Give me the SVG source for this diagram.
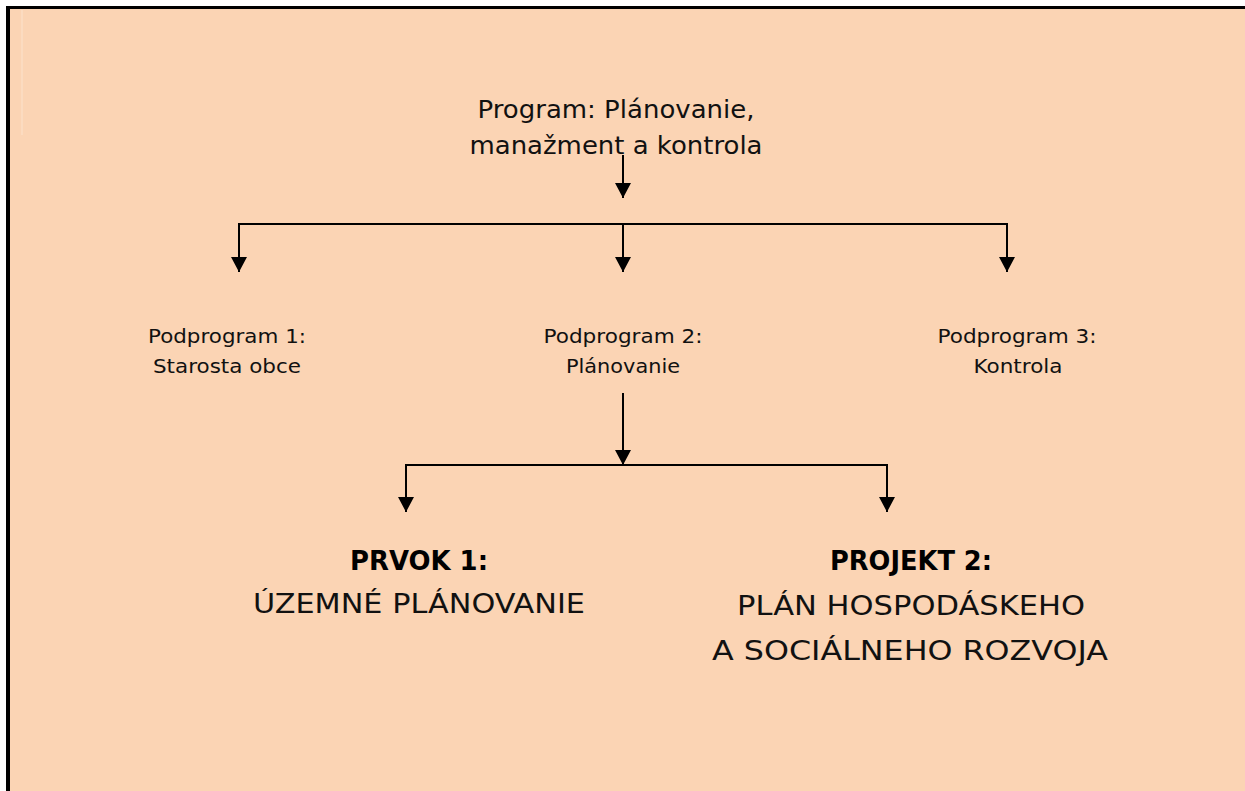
<svg xmlns="http://www.w3.org/2000/svg" width="1245" height="791" viewBox="0 0 1245 791">
  <style>
    .bg { fill: #FBD4B4; }
    .border { fill: #000; }
    .conn { fill: none; stroke: #000; stroke-width: 2; marker-end: url(#arrow); }
    .gothic { font-family: "DejaVu Sans", "Liberation Sans", sans-serif; fill: #111; text-anchor: middle; }
    .verdana { font-family: "DejaVu Sans", "Liberation Sans", sans-serif; fill: #111; text-anchor: middle; font-size: 20px; }
    .bold { font-family: "DejaVu Sans", "Liberation Sans", sans-serif; font-weight: bold; fill: #000; text-anchor: middle; font-size: 26px; }
  </style>
  <defs>
    <marker id="arrow" viewBox="0 0 15 16" refX="15" refY="8" markerWidth="15" markerHeight="16" markerUnits="userSpaceOnUse" orient="auto">
      <path d="M0,0 L15,8 L0,16 z" fill="#000"/>
    </marker>
  </defs>
  <rect width="1245" height="791" fill="#ffffff"/>
  <rect class="bg" x="10" y="9" width="1235" height="782"/>
  <rect class="border" x="6" y="6" width="1239" height="3"/>
  <rect class="border" x="6" y="6" width="4" height="785"/>
  <line x1="22" y1="10" x2="22" y2="135" stroke="#FCE2CC" stroke-width="1"/>

  <g id="connectors">
    <path class="conn" d="M623,155 V198"/>
    <path class="conn" d="M623,224 H239 V272"/>
    <path class="conn" d="M623,224 V272"/>
    <path class="conn" d="M623,224 H1007 V272"/>
    <path class="conn" d="M623,393 V465"/>
    <path class="conn" d="M623,465 H406 V512"/>
    <path class="conn" d="M623,465 H887 V512"/>
  </g>

  <g id="program">
    <text class="gothic" font-size="25" x="616" y="118" textLength="277" lengthAdjust="spacingAndGlyphs">Program: Plánovanie,</text>
    <text class="gothic" font-size="25" x="616" y="154" textLength="293" lengthAdjust="spacingAndGlyphs">manažment a kontrola</text>
  </g>

  <g id="podprogram1">
    <text class="verdana" x="227" y="343" textLength="158" lengthAdjust="spacingAndGlyphs">Podprogram 1:</text>
    <text class="verdana" x="227" y="373" textLength="148" lengthAdjust="spacingAndGlyphs">Starosta obce</text>
  </g>
  <g id="podprogram2">
    <text class="verdana" x="623" y="343" textLength="159" lengthAdjust="spacingAndGlyphs">Podprogram 2:</text>
    <text class="verdana" x="623" y="373" textLength="114" lengthAdjust="spacingAndGlyphs">Plánovanie</text>
  </g>
  <g id="podprogram3">
    <text class="verdana" x="1017" y="343" textLength="159" lengthAdjust="spacingAndGlyphs">Podprogram 3:</text>
    <text class="verdana" x="1018" y="373" textLength="89" lengthAdjust="spacingAndGlyphs">Kontrola</text>
  </g>

  <g id="prvok1">
    <text class="bold" x="419" y="570" textLength="138" lengthAdjust="spacingAndGlyphs">PRVOK 1:</text>
    <text class="gothic" font-size="27" x="419" y="613" textLength="332" lengthAdjust="spacingAndGlyphs">ÚZEMNÉ PLÁNOVANIE</text>
  </g>
  <g id="projekt2">
    <text class="bold" x="911" y="570" textLength="162" lengthAdjust="spacingAndGlyphs">PROJEKT 2:</text>
    <text class="gothic" font-size="27" x="911" y="615" textLength="348" lengthAdjust="spacingAndGlyphs">PLÁN HOSPODÁSKEHO</text>
    <text class="gothic" font-size="27" x="910" y="660" textLength="396" lengthAdjust="spacingAndGlyphs">A SOCIÁLNEHO ROZVOJA</text>
  </g>
</svg>
